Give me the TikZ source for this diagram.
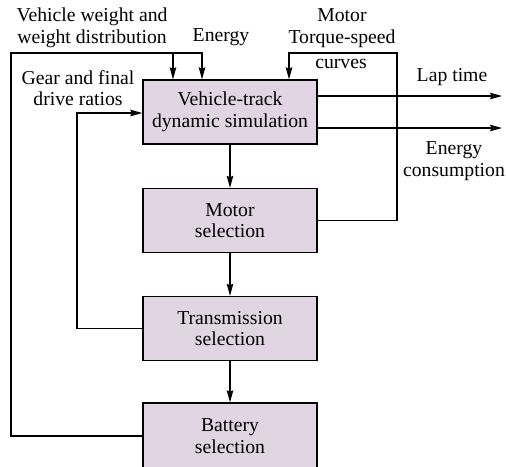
\documentclass[tikz,border=0pt]{standalone}
\usepackage{fontspec}
\setmainfont{Liberation Serif}
\usetikzlibrary{arrows.meta}
\definecolor{boxfill}{RGB}{225,213,228}
\begin{document}
\begin{tikzpicture}[x=1pt,y=-1pt,
  every node/.style={font=\fontsize{19.7}{21.5}\selectfont, inner sep=0pt},
  block/.style={draw, line width=1.3pt, fill=boxfill, minimum width=174pt, minimum height=64pt, align=center},
  lbl/.style={align=center},
  wire/.style={line width=1.3pt},
  arr/.style={wire, -{Stealth[length=12pt,width=6.5pt,inset=1.5pt]}}]
\useasboundingbox (0,0) rectangle (506,466);
\clip (0,0) rectangle (506,466);
\node[block] (sim) at (230,112) {Vehicle-track\\dynamic simulation};
\node[block] (mot) at (230,220.5) {Motor\\selection};
\node[block] (tra) at (230,328.5) {Transmission\\selection};
\node[block, minimum height=66pt] (bat) at (230,436) {Battery\\selection};
% labels
\node[lbl] (lw) at (92,28) {Vehicle weight and\\weight distribution};
\node[lbl] (le) at (221,37) {Energy};
\node[lbl] (lg) at (78,88) {Gear and final\\drive ratios};
\node[lbl] (lm) at (342,28) {Motor\\Torque-speed};
\node[lbl] (lc) at (341,64) {curves};
\node[lbl] (ll) at (452,77) {Lap time};
\node[lbl] (lec) at (454,161) {Energy\\consumption};
% coordinates
\coordinate (tl) at (11,53);
\coordinate (j1) at (173,53);
\coordinate (j2) at (202,53);
\coordinate (mr) at (397,53);
\coordinate (mt) at (289,53);
\coordinate (gl) at (77,113);
\coordinate (lap) at (502,96);
\coordinate (ene) at (502,128);
% connectors
\draw[arr] (sim) -- (mot);
\draw[arr] (mot) -- (tra);
\draw[arr] (tra) -- (bat);
\draw[arr] (bat.west) -| (tl) -- (j2) -- (j2 |- sim.north);
\draw[arr] (j1) -- (j1 |- sim.north);
\draw[arr] (tra.west) -| (gl) -- (gl -| sim.west);
\draw[arr] (mot.east) -| (mr) -- (mt) -- (mt |- sim.north);
\draw[arr] (sim.east |- lap) -- (lap);
\draw[arr] (sim.east |- ene) -- (ene);
\end{tikzpicture}
\end{document}
